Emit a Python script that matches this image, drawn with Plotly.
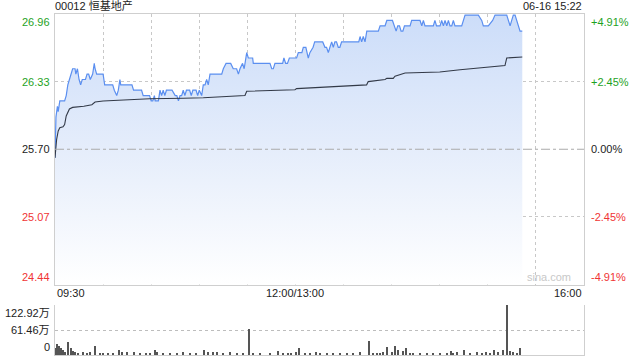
import plotly.graph_objects as go

# ---------------- data ----------------
title_left = "00012 恒基地产"
title_right = "06-16 15:22"
prev_close = 25.70

# minutes since 09:30 (lunch break removed), price
price_min = [0, 0.6, 1.5, 2, 3, 6, 7, 8, 9, 10, 11, 12.5, 13, 14, 15, 16, 17, 19, 20, 21, 22, 23.5, 24.5, 25, 26, 30,
             31, 36, 37, 38.5, 39.5, 40.5, 41, 48, 49, 54, 55, 59, 60, 61, 62, 62.5, 64.5, 65.5, 66.5, 67.5, 68.5, 69.5,
             73, 75, 76, 77, 78, 79, 80, 81, 82, 84, 85, 86, 88, 89, 90, 91.5, 92.5, 93.6, 94.6, 95.6, 96.7, 104, 105,
             106.7, 109.6, 111.2, 113.3, 114.4, 115.4, 117, 118, 119.6, 120.6, 123.3, 123.7, 134.1, 135.2, 136.2, 137.2,
             142, 142.8, 143.9, 145, 146.2, 150.7, 151.8, 154, 154.9, 156.5, 158, 159, 161, 162, 167, 168.4, 169.4,
             170.5, 171.5, 172.6, 173.6, 174.6, 175.6, 176.7, 177.7, 178.8, 189.5, 190.3, 191.3, 192.3, 193.4, 194.5,
             201.7, 202.8, 205.9, 207, 210.5, 211.7, 212.8, 213.8, 214.9, 215.9, 217, 218, 221.5, 222.5, 227.7, 228.8,
             229.8, 230.8, 236, 237, 238, 240.2, 241.2, 242.3, 243.3, 244.4, 245.4, 246.4, 247.5, 248.5, 249.5, 253.7,
             255.8, 264.1, 266.2, 267.2, 270.3, 273, 274.5, 281.8, 282.8, 283.9, 284.9, 285.9, 287, 289, 290.1, 291.5]
price_val = [25.62, 26.00, 26.10, 26.05, 26.15, 26.15, 26.20, 26.30, 26.35, 26.40, 26.45, 26.45, 26.40, 26.45, 26.35,
             26.30, 26.35, 26.35, 26.40, 26.40, 26.35, 26.40, 26.50, 26.45, 26.40, 26.40,
             26.30, 26.30, 26.25, 26.20, 26.25, 26.35, 26.30, 26.30, 26.25, 26.25, 26.20, 26.20, 26.15, 26.15, 26.20,
             26.15, 26.15, 26.25, 26.20, 26.25, 26.20, 26.25,
             26.25, 26.20, 26.20, 26.15, 26.20, 26.20, 26.25, 26.20, 26.25, 26.25, 26.20, 26.25, 26.25, 26.20, 26.25,
             26.20, 26.30, 26.30, 26.35, 26.30, 26.40, 26.40, 26.45,
             26.50, 26.50, 26.45, 26.45, 26.40, 26.45, 26.50, 26.45, 26.60, 26.55, 26.55, 26.50, 26.50, 26.45, 26.45,
             26.50,
             26.50, 26.55, 26.50, 26.50, 26.55, 26.55, 26.60, 26.60, 26.65, 26.65, 26.55, 26.60, 26.65, 26.70, 26.70,
             26.65, 26.65,
             26.60, 26.65, 26.70, 26.65, 26.70, 26.70, 26.65, 26.65, 26.70, 26.70, 26.75, 26.70, 26.75, 26.70, 26.80,
             26.80, 26.85, 26.85, 26.90, 26.90, 26.85, 26.80, 26.85, 26.85, 26.80, 26.80, 26.85, 26.85, 26.90, 26.90,
             26.85,
             26.90, 26.85, 26.85, 26.90, 26.85, 26.85, 26.90, 26.85, 26.90, 26.85, 26.90, 26.85, 26.85, 26.90, 26.85,
             26.85,
             26.95, 26.95, 26.90, 26.85, 26.85, 26.90, 26.95, 26.95, 26.90, 26.85, 26.90, 26.95, 26.95, 26.85, 26.80,
             26.80]

avg_min = [0, 1, 2, 3, 5, 6, 7, 8, 9, 11, 18, 23, 24, 25, 30, 38, 40, 59, 80, 92.5, 118.5, 119.6, 149.7, 150.7,
           194.4, 195.4, 205.9, 207, 211, 212.1, 218.4, 240, 252.7, 277, 280.7, 281.8, 291.5]
avg_val = [25.62, 25.79, 25.87, 25.90, 25.91, 25.93, 26.01, 26.05, 26.075, 26.09, 26.10, 26.115, 26.13, 26.14, 26.15,
           26.155, 26.16, 26.17, 26.175, 26.18, 26.20, 26.24, 26.255, 26.265,
           26.30, 26.33, 26.35, 26.36, 26.36, 26.38, 26.41, 26.42, 26.44, 26.47, 26.48, 26.55, 26.56]

vol_min = [0, 1.5, 2.7, 3.7, 4.8, 6, 8.3, 9.8, 11, 12.5, 14.5, 17.7, 19.8, 21.8, 25, 28, 30, 33, 36, 40, 41.6, 44.7,
           49, 53, 57, 59, 62.6, 63.5, 67.6, 71.7, 75.9, 80, 84, 88, 93, 95.6, 98.8, 100.8, 105, 109, 113.3, 117.5,
           120.8, 123.7, 127.9, 134, 139, 142.4, 145.5, 147, 150.4, 152.5, 156, 159, 162.9, 165.3, 169.5, 173.6, 177.8,
           182, 186, 190.3, 196.1, 198.2, 200.7, 202.8, 204.9, 207.3, 210, 212.3, 214.2, 217.3, 219, 221.5, 223.6,
           227.7, 231.9, 236, 240.2, 244.4, 247, 248.5, 250.6, 255.4, 259, 263.5, 266.2, 268.9, 271.4, 274.1, 276.6,
           279.3, 282.2, 283.9, 285.9, 288, 290.1]
vol_wan = [16, 26, 23, 16, 12, 8, 33, 18, 10, 6.5, 4, 6.5, 5, 6.5, 22, 4, 4, 5, 5, 12, 8, 6.5,
           8, 4, 5, 5.5, 12, 8, 4, 4, 4, 8, 4, 5, 12, 6.5, 6.5, 8, 5, 6.5, 5, 4,
           63, 5, 4, 5, 10, 4, 5, 5, 6.5, 16, 3, 3, 6.5, 3, 2.5, 3, 4,
           3, 4, 6.5, 34, 4, 3, 5, 6.5, 19, 6.5, 22, 12, 10, 18, 5.5, 4,
           3, 4, 3, 2.5, 3, 10, 4, 6.5, 12, 3, 6.5, 5, 8, 5, 12, 8,
           11.5, 122.9, 10, 6.5, 4, 16]

price_ticks = [24.44, 25.07, 25.70, 26.33, 26.96]
price_tick_labels = ["24.44", "25.07", "25.70", "26.33", "26.96"]
pct_tick_labels = ["-4.91%", "-2.45%", "0.00%", "+2.45%", "+4.91%"]
vol_ticks = [0, 61.46, 122.92]
vol_tick_labels = ["0", "61.46万", "122.92万"]
time_ticks = [0, 150, 330]
time_tick_labels = ["09:30", "12:00/13:00", "16:00"]

# ---------------- styles ----------------
FONT = "Liberation Sans, Arial, Noto Sans CJK SC, sans-serif"
GREEN = "#1ea21e"
RED = "#f03434"
DARK = "#222222"
GRID = "#c8c8c8"
BORDER = "#cfcfcf"

fig = go.Figure()

fig.add_trace(go.Scatter(
    x=price_min, y=price_val, mode="lines",
    line=dict(color="#5b8ff0", width=1.2),
    fill="tozeroy",
    fillgradient=dict(type="vertical", start=price_ticks[0], stop=price_ticks[-1],
                      colorscale=[[0, "rgb(255,255,255)"], [0.5, "rgb(229,237,251)"], [1, "rgb(204,221,249)"]]),
    xaxis="x", yaxis="y", hoverinfo="skip", showlegend=False))

fig.add_trace(go.Scatter(
    x=avg_min, y=avg_val, mode="lines",
    line=dict(color="#333a48", width=1.1),
    xaxis="x", yaxis="y", hoverinfo="skip", showlegend=False))

fig.add_trace(go.Bar(
    x=vol_min, y=vol_wan, width=0.65,
    marker=dict(color="#555555", line=dict(width=0)),
    xaxis="x2", yaxis="y2", hoverinfo="skip", showlegend=False))

main_bottom = (355 - 284.5) / 341
vol_top = 50 / 341

fig.update_layout(
    width=640, height=360,
    margin=dict(l=55, r=56, t=14, b=5),
    paper_bgcolor="white", plot_bgcolor="rgba(0,0,0,0)",
    font=dict(family=FONT, size=11, color=DARK),
    bargap=0,
    xaxis=dict(domain=[0, 1], range=[0, 330], anchor="y", showticklabels=False, ticks="",
               tick0=0, dtick=30, showgrid=True, gridcolor=GRID, griddash="dot", gridwidth=1,
               showline=True, mirror=True, linecolor=BORDER, linewidth=1, zeroline=False, fixedrange=True),
    yaxis=dict(domain=[main_bottom, 1], range=[price_ticks[0], price_ticks[-1]], anchor="x",
               showticklabels=False, ticks="", tickvals=[price_ticks[1], price_ticks[3]],
               showgrid=True, gridcolor=GRID, griddash="dot", gridwidth=1,
               showline=True, mirror=True, linecolor=BORDER, linewidth=1, zeroline=False, fixedrange=True),
    xaxis2=dict(domain=[0, 1], range=[0, 330], anchor="y2", showticklabels=False, ticks="",
                showgrid=False, showline=True, mirror=False, linecolor=BORDER, linewidth=1,
                zeroline=False, fixedrange=True),
    yaxis2=dict(domain=[0, vol_top], range=[0, vol_ticks[-1]], anchor="x2", showticklabels=False, ticks="",
                tickvals=vol_ticks[1:], showgrid=True, gridcolor="#bdbdbd", griddash="dot", gridwidth=1,
                showline=True, mirror=True, linecolor=BORDER, linewidth=1, zeroline=False, fixedrange=True),
)

# previous-close reference line
fig.add_shape(type="line", xref="x", yref="y", x0=0, x1=330, y0=prev_close, y1=prev_close,
              line=dict(color="#aaaaaa", width=1, dash="dashdot"), layer="above")

ann = []
# price labels (left) and percent labels (right)
for i, (v, lab, pl) in enumerate(zip(price_ticks, price_tick_labels, pct_tick_labels)):
    col = RED if v < prev_close else (GREEN if v > prev_close else DARK)
    if i == 0:
        ya, ys = "bottom", 0
    elif i == len(price_ticks) - 1:
        ya, ys = "top", 0
    else:
        ya, ys = "middle", 0
    ann.append(dict(xref="paper", yref="y", x=0, y=v, text=lab, xanchor="right", yanchor=ya, xshift=-3,
                    showarrow=False, font=dict(color=col, size=11, family=FONT)))
    ann.append(dict(xref="paper", yref="y", x=1, y=v, text=pl, xanchor="left", yanchor=ya, xshift=5,
                    showarrow=False, font=dict(color=col, size=11, family=FONT)))

# volume labels
for v, lab in zip(vol_ticks, vol_tick_labels):
    ya = "bottom" if v == vol_ticks[0] else ("top" if v == vol_ticks[-1] else "middle")
    ann.append(dict(xref="paper", yref="y2", x=0, y=v, text=lab, xanchor="right", yanchor=ya, xshift=-3,
                    showarrow=False, font=dict(color=DARK, size=11, family=FONT)))

# time labels
for v, lab in zip(time_ticks, time_tick_labels):
    xa = "left" if v == time_ticks[0] else ("right" if v == time_ticks[-1] else "center")
    ann.append(dict(xref="x", yref="y", x=v, y=price_ticks[0], text=lab, xanchor=xa, yanchor="top",
                    showarrow=False, font=dict(color=DARK, size=11, family=FONT)))

# titles
ann.append(dict(xref="paper", yref="paper", x=0, y=1, text=title_left, xanchor="left", yanchor="bottom",
                xshift=-2, showarrow=False, font=dict(color=DARK, size=11, family=FONT)))
ann.append(dict(xref="paper", yref="paper", x=1, y=1, text=title_right, xanchor="right", yanchor="bottom",
                showarrow=False, font=dict(color=DARK, size=11, family=FONT)))
# watermark
ann.append(dict(xref="x", yref="y", x=323, y=price_ticks[0], text="sina.com", xanchor="right", yanchor="bottom",
                showarrow=False, font=dict(color="#c8c8c8", size=11, family=FONT)))

fig.update_layout(annotations=ann)

fig.write_html("out.html")
